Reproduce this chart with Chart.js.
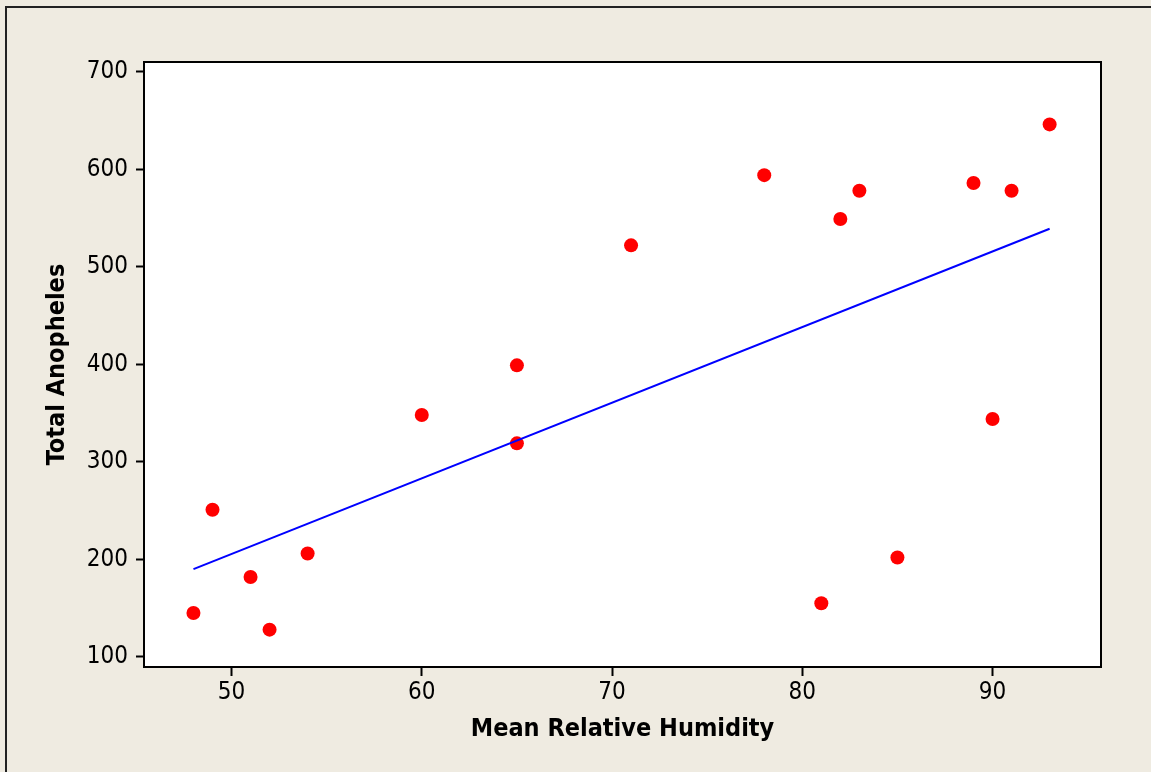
<!DOCTYPE html>
<html>
<head>
<meta charset="utf-8">
<script src="https://cdn.jsdelivr.net/npm/chart.js@4.4.1/dist/chart.umd.min.js"></script>
<style>
  html, body { margin: 0; padding: 0; background: #efebe1; }
  #wrap { width: 1151px; height: 772px; }
</style>
</head>
<body>
<div id="wrap"><canvas id="myChart" width="1151" height="772"></canvas></div>
<script>
// humidity (%) vs total anopheles count
const humidity = [48, 49, 51, 52, 54, 60, 65, 65, 71, 78, 81, 82, 83, 85, 89, 90, 91, 93];
const anopheles = [145, 251, 182, 128, 206, 348, 399, 319, 522, 594, 155, 549, 578, 202, 586, 344, 578, 646];

// fitted line end points
const fitX = [48, 93];
const fitY = [190, 539];

const xTicks = [50, 60, 70, 80, 90];
const yTicks = [100, 200, 300, 400, 500, 600, 700];

const frame = {
  id: "frame",
  beforeDraw(chart) {
    const c = chart.ctx;
    const a = chart.chartArea;
    c.save();
    c.fillStyle = "#efebe1";
    c.fillRect(0, 0, chart.width, chart.height);
    c.strokeStyle = "#222";
    c.lineWidth = 2;
    c.beginPath();
    c.moveTo(6, chart.height + 5);
    c.lineTo(6, 7);
    c.lineTo(chart.width + 5, 7);
    c.stroke();
    c.fillStyle = "#fff";
    c.fillRect(a.left, a.top, a.right - a.left, a.bottom - a.top);
    c.restore();
  },
  afterDraw(chart) {
    const c = chart.ctx;
    const a = chart.chartArea;
    c.save();
    c.strokeStyle = "#000";
    c.lineWidth = 2;
    c.strokeRect(a.left, a.top, a.right - a.left, a.bottom - a.top);
    c.restore();
  },
};

const tickFont = { family: "DejaVu Sans Condensed", size: 24 };
const titleFont = { family: "DejaVu Sans Condensed", size: 25, weight: "bold" };

new Chart(document.getElementById("myChart"), {
  type: "scatter",
  data: {
    datasets: [
      {
        type: "line",
        data: fitX.map((x, i) => ({ x: x, y: fitY[i] })),
        borderColor: "#0000ff",
        borderWidth: 2,
        pointRadius: 0,
        fill: false,
      },
      {
        data: humidity.map((x, i) => ({ x: x, y: anopheles[i] })),
        backgroundColor: "#ff0000",
        borderWidth: 0,
        pointRadius: 7,
      },
    ],
  },
  options: {
    responsive: false,
    animation: false,
    layout: { padding: { left: 0, top: 62, right: 50, bottom: 0 } },
    plugins: {
      legend: { display: false },
      tooltip: { enabled: false },
    },
    scales: {
      x: {
        type: "linear",
        min: 45.4,
        max: 95.7,
        afterBuildTicks: (s) => { s.ticks = xTicks.map((v) => ({ value: v })); },
        afterFit: (s) => { s.height = 105; },
        border: { display: false },
        grid: { drawOnChartArea: false, tickLength: 9, tickColor: "#000", tickWidth: 2 },
        ticks: { color: "#000", font: tickFont, padding: 2, maxRotation: 0 },
        title: {
          display: true,
          text: "Mean Relative Humidity",
          color: "#000",
          font: titleFont,
          padding: { top: 0, bottom: 28 },
        },
      },
      y: {
        type: "linear",
        min: 89.7,
        max: 710,
        afterBuildTicks: (s) => { s.ticks = yTicks.map((v) => ({ value: v })); },
        afterFit: (s) => { s.width = 144; },
        border: { display: false },
        grid: { drawOnChartArea: false, tickLength: 8, tickColor: "#000", tickWidth: 2 },
        ticks: { color: "#000", font: tickFont, padding: 8 },
        title: {
          display: true,
          text: "Total Anopheles",
          color: "#000",
          font: titleFont,
          padding: { top: 42, bottom: 0 },
        },
      },
    },
  },
  plugins: [frame],
});
</script>
</body>
</html>
